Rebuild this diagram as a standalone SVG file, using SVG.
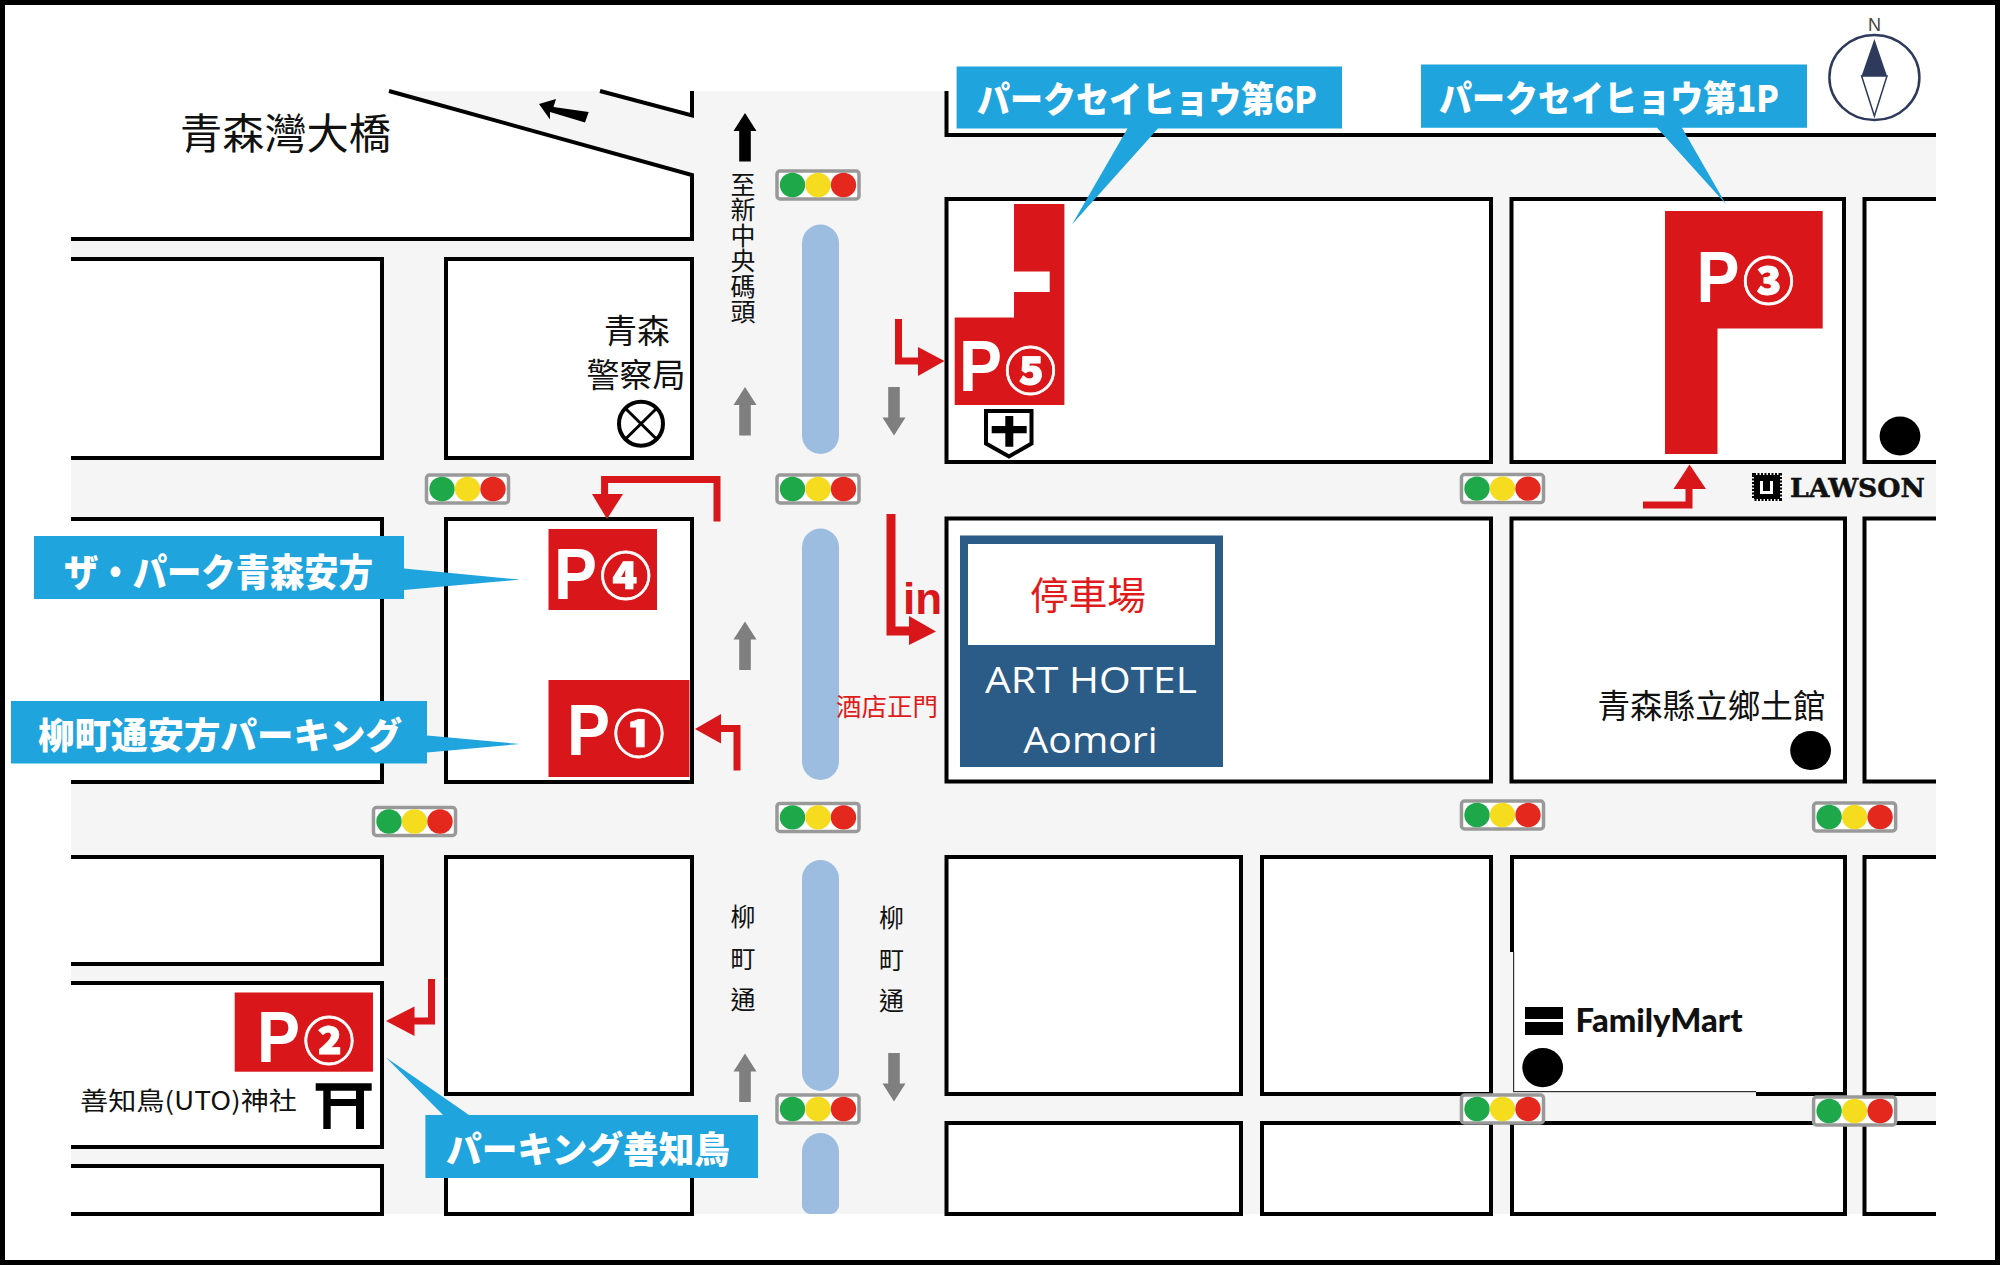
<svg xmlns="http://www.w3.org/2000/svg" width="2000" height="1266" viewBox="0 0 2000 1266">
<style>
.b{fill:#fff;stroke:#000;stroke-width:4}
.l{fill:none;stroke:#000;stroke-width:4}
.med{fill:#9DBDE0}
.red{fill:#D9161A}
.ra{fill:none;stroke:#D9161A;stroke-width:7}
.rh{fill:#D9161A}
.call{fill:#1FA4DE}
.ct{font-family:"Noto Sans CJK JP","Noto Sans",sans-serif;font-weight:900;fill:#fff;font-size:36px}
.p{font-family:"Liberation Sans",Arial,sans-serif;font-weight:700;fill:#fff;font-size:72.6px}
.c{font-family:"Noto Sans CJK JP",sans-serif;font-weight:900;fill:#fff;stroke:#fff;stroke-width:.8;font-size:51px;text-anchor:middle}
.t{font-family:"Noto Sans CJK TC",sans-serif;fill:#111}
.v{font-size:25px;writing-mode:vertical-rl}
.hw{font-family:"Open Sans","Noto Sans",sans-serif;fill:#fff;font-size:37px}
.dot{fill:#000}
</style>
<defs>
<g id="tl"><rect x="-41" y="-14" width="82" height="28" rx="3" fill="#fff" stroke="#999" stroke-width="3.500"/><ellipse cx="-25.500" cy="0" rx="12.700" ry="12.200" fill="#1EA84A"/><ellipse cx="0" cy="0" rx="12.700" ry="12.200" fill="#F6DC1E"/><ellipse cx="25.500" cy="0" rx="12.700" ry="12.200" fill="#E4281E"/></g>
<polygon id="au" points="0,0 11.500,18 5.800,18 5.800,48.500 -5.800,48.500 -5.800,18 -11.500,18"/>
<polygon id="ad" points="0,0 11.500,-18 5.800,-18 5.800,-48.500 -5.800,-48.500 -5.800,-18 -11.500,-18"/>
</defs>
<rect width="2000" height="1266" fill="#fff"/>
<polygon id="roads" points="71,91 946,91 946,135 1936,135 1936,1214 71,1214" fill="#F5F5F5"/>
<g id="blocks">
<path d="M71,239H692V175L389,91H71Z" fill="#fff"/>
<path class="l" d="M71,239H692V175L389,91"/>
<path d="M600,91L692,115.500V91Z" fill="#fff"/>
<path class="l" d="M600,91L692,115.500V91"/>
<path d="M946.500,91V135H1936V88H946.500Z" fill="#fff"/>
<path class="l" d="M946.500,91V135H1936"/>
<path class="b" d="M71,259H382V458H71"/>
<rect class="b" x="446" y="259" width="246" height="199"/>
<path class="b" d="M71,519H382V782H71"/>
<rect class="b" x="446" y="519" width="246" height="263"/>
<path class="b" d="M71,857H382V964H71"/>
<path class="b" d="M71,983H382V1147H71"/>
<path class="b" d="M71,1166H382V1214H71"/>
<rect class="b" x="446" y="857" width="246" height="237"/>
<rect class="b" x="446" y="1122" width="246" height="92"/>
<rect class="b" x="946.500" y="199" width="544.500" height="263"/>
<rect class="b" x="1511.500" y="199" width="332.500" height="263"/>
<path class="b" d="M1936,199H1864.500V462H1936"/>
<rect class="b" x="946.500" y="518.500" width="544.500" height="263"/>
<rect class="b" x="1511.500" y="518.500" width="333.500" height="263"/>
<path class="b" d="M1936,518.500H1864.500V781.500H1936"/>
<rect class="b" x="946.500" y="857" width="294.500" height="237"/>
<rect class="b" x="1262" y="857" width="229" height="237"/>
<rect class="b" x="1512" y="857" width="333" height="237"/>
<path class="b" d="M1936,857H1864.500V1094H1936"/>
<rect class="b" x="946.500" y="1123" width="294.500" height="91"/>
<rect class="b" x="1262" y="1123" width="229" height="91"/>
<rect class="b" x="1512" y="1123" width="333" height="91"/>
<path class="b" d="M1936,1123H1864.500V1214H1936"/>
<rect x="1509" y="952" width="4" height="144" fill="#F5F5F5"/>
<rect x="1513" y="952" width="1.200" height="140" fill="#333"/>
<rect x="1513" y="1092" width="243" height="4" fill="#F5F5F5"/>
<rect x="1513" y="1091" width="243" height="1.200" fill="#333"/>
</g>
<g id="medians">
<rect class="med" x="802" y="224.500" width="37" height="229.500" rx="18.500"/>
<rect class="med" x="802" y="528.600" width="37" height="251.400" rx="18.500"/>
<rect class="med" x="802" y="860" width="37" height="231" rx="18.500"/>
<path class="med" d="M802,1151.500a18.500,18.500 0 0 1 37,0V1207q-3,7-8,7H810q-5,0-8-7Z"/>
</g>
<g id="traffic-lights">
<use href="#tl" x="818" y="185"/>
<use href="#tl" x="818" y="489"/>
<use href="#tl" x="467.500" y="489"/>
<use href="#tl" x="1502.500" y="488.600"/>
<use href="#tl" x="414.500" y="821.500"/>
<use href="#tl" x="818" y="817.400"/>
<use href="#tl" x="818" y="1109"/>
<use href="#tl" x="1502.500" y="815"/>
<use href="#tl" x="1854.600" y="817"/>
<use href="#tl" x="1502.500" y="1109"/>
<use href="#tl" x="1854.600" y="1111"/>
</g>
<g id="connectors">
<use href="#au" x="745" y="113" fill="#000"/>
<use href="#au" x="745" y="387" fill="#7F7F7F"/>
<use href="#au" x="745" y="621.500" fill="#7F7F7F"/>
<use href="#au" x="745" y="1053.500" fill="#7F7F7F"/>
<use href="#ad" x="894" y="435.500" fill="#7F7F7F"/>
<use href="#ad" x="894" y="1101.500" fill="#7F7F7F"/>
<polygon points="539,104 556,99 553.500,107 588.700,112 585,122.500 550,112 550,119.600" fill="#000"/>
<path class="ra" d="M898.500,319V361H922"/>
<polygon class="rh" points="944.500,361 918,347 918,376"/>
<path class="ra" d="M717,521.600V479.600H604.600V497"/>
<polygon class="rh" points="607,519 592,494 623,494"/>
<path class="ra" style="stroke-width:9" d="M891,514V631H912"/>
<polygon class="rh" points="936,631.500 909,616 909,645"/>
<path class="ra" d="M737,770.500V728.500H718"/>
<polygon class="rh" points="695,729 721,714 721,743.500"/>
<path class="ra" d="M431.500,979V1021H412"/>
<polygon class="rh" points="386,1021 414.500,1006.400 414.500,1036"/>
<path class="ra" d="M1643,505H1689V487"/>
<polygon class="rh" points="1689.500,464.500 1673.500,489 1706,489"/>
</g>
<g id="p4"><rect class="red" x="548.500" y="529" width="108.500" height="81"/><text class="p" x="554" y="599" textLength="43" lengthAdjust="spacingAndGlyphs">P</text><text class="c" x="625.700" y="595">④</text></g>
<g id="p1"><rect class="red" x="548.500" y="680" width="141" height="97"/><text class="p" x="567" y="754.600" textLength="43" lengthAdjust="spacingAndGlyphs">P</text><text class="c" x="639" y="753">①</text></g>
<g id="p2"><rect class="red" x="234.700" y="992.500" width="138.300" height="79.200"/><text class="p" x="257" y="1061.500" textLength="43" lengthAdjust="spacingAndGlyphs">P</text><text class="c" x="329" y="1059.500">②</text></g>
<g id="p3"><polygon class="red" points="1665,211 1822.700,211 1822.700,328.600 1717.500,328.600 1717.500,454 1665,454"/><text class="p" x="1696.500" y="302" textLength="43" lengthAdjust="spacingAndGlyphs">P</text><text class="c" x="1768.500" y="299.500">③</text></g>
<g id="p5"><polygon class="red" points="1014,204 1064.400,204 1064.400,405 954.700,405 954.700,317.600 1014,317.600 1014,292 1049.700,292 1049.700,271.400 1014,271.400"/><text class="p" x="959" y="391" textLength="43" lengthAdjust="spacingAndGlyphs">P</text><text class="c" x="1030.500" y="389.500">⑤</text></g>
<g id="hotel"><rect x="960" y="535.500" width="263" height="231.500" fill="#2B5B87"/><rect x="968" y="544" width="247" height="101" fill="#fff"/>
<text x="1030" y="609" font-family="Noto Sans CJK TC,sans-serif" font-size="38" fill="#E01B1B" textLength="116" lengthAdjust="spacingAndGlyphs">停車場</text>
<text class="hw" x="985" y="693" textLength="212" lengthAdjust="spacingAndGlyphs">ART HOTEL</text>
<text class="hw" x="1023.600" y="753" textLength="134" lengthAdjust="spacingAndGlyphs">Aomori</text></g>
<g id="in-label"><text x="903" y="614" font-family="Liberation Sans,sans-serif" font-weight="700" font-size="44" fill="#D9161A">in</text>
<text x="836" y="716" font-family="Noto Sans CJK TC,sans-serif" font-size="25" fill="#E01B1B" textLength="102" lengthAdjust="spacingAndGlyphs">酒店正門</text></g>
<g id="callout-p4"><polygon class="call" points="34,536 404,536 404,568.600 520,579.600 404,590 404,599 34,599"/><text class="ct" x="64" y="586" style="font-size:38px" textLength="309" lengthAdjust="spacingAndGlyphs">ザ・パーク青森安方</text></g>
<g id="callout-p1"><polygon class="call" points="11,701 427,701 427,735.400 520,744 427,752.500 427,763.500 11,763.500"/><text class="ct" x="38" y="749" textLength="364" lengthAdjust="spacingAndGlyphs">柳町通安方パーキング</text></g>
<g id="callout-p2"><polygon class="call" points="425.400,1115 443,1115 386,1057.400 469,1115 758,1115 758,1178 425.400,1178"/><text class="ct" x="446" y="1163" textLength="284" lengthAdjust="spacingAndGlyphs">パーキング善知鳥</text></g>
<g id="callout-p5"><polygon class="call" points="956.600,66.500 1342,66.500 1342,128.600 1158,128.600 1072,224.500 1127.500,128.600 956.600,128.600"/><text class="ct" x="977" y="113" textLength="340" lengthAdjust="spacingAndGlyphs">パークセイヒョウ第6P</text></g>
<g id="callout-p3"><polygon class="call" points="1421,64.500 1807,64.500 1807,127.800 1682,127.800 1725.800,204 1657,127.800 1421,127.800"/><text class="ct" x="1439" y="112" textLength="340" lengthAdjust="spacingAndGlyphs">パークセイヒョウ第1P</text></g>
<g id="labels">
<text class="t" x="180" y="149" font-size="42" textLength="211" lengthAdjust="spacingAndGlyphs">青森灣大橋</text>
<text class="t v" x="743" y="172" style="letter-spacing:.4px">至新中央碼頭</text>
<text class="t" x="604" y="343" font-size="33">青森</text>
<text class="t" x="586.500" y="387" font-size="33">警察局</text>
<text class="t v" x="743" y="904" style="letter-spacing:16.500px">柳町通</text>
<text class="t v" x="891.500" y="905" style="letter-spacing:16.500px">柳町通</text>
<text class="t" x="80" y="1110" font-size="25" textLength="217" lengthAdjust="spacingAndGlyphs">善知鳥(UTO)神社</text>
<text class="t" x="1597.500" y="718" font-size="33" textLength="228" lengthAdjust="spacingAndGlyphs">青森縣立鄉土館</text>
</g>
<g id="police"><circle cx="641" cy="423.700" r="22" fill="#fff" stroke="#000" stroke-width="4"/><path d="M625.500,408.500L656.500,439M656.500,408.500L625.500,439" stroke="#000" stroke-width="3" fill="none"/></g>
<g id="hospital"><path d="M986,411H1031.500V443.500L1009,456.500L986,443.500Z" fill="#fff" stroke="#000" stroke-width="4"/><path d="M1005.300,416H1013.300V426H1026.700V433.300H1013.300V446.700H1005.300V433.300H991.700V426H1005.300Z" fill="#000"/></g>
<g id="shrine"><path d="M315.700,1083.300H371.700V1090.700H364V1129H356V1106H330.700V1129H323.300V1090.700H315.700ZM330.700,1090.700V1099H356V1090.700Z" fill="#000" fill-rule="evenodd"/></g>
<g id="lawson"><rect x="1754" y="475" width="26" height="24" fill="#000" stroke="#000" stroke-width="4" stroke-dasharray="2 1.500"/><path d="M1760,481V494H1773V481H1770V491H1763V481Z" fill="#fff"/>
<text x="1790" y="497" font-family="DejaVu Serif,serif" font-weight="700" font-size="26" fill="#111" stroke="#111" stroke-width=".5" textLength="135" lengthAdjust="spacingAndGlyphs">LAWSON</text></g>
<g id="familymart"><rect x="1525" y="1007" width="38" height="12" fill="#000"/><rect x="1525" y="1022" width="38" height="13" fill="#000"/>
<text x="1575.500" y="1032" font-family="Lato,Liberation Sans,sans-serif" font-weight="900" font-size="32" fill="#111" textLength="167" lengthAdjust="spacingAndGlyphs">FamilyMart</text></g>
<g id="dots"><ellipse class="dot" cx="1900" cy="436" rx="20.400" ry="19.600"/><ellipse class="dot" cx="1810.600" cy="750.500" rx="20.400" ry="19.600"/><ellipse class="dot" cx="1542.700" cy="1067.600" rx="20.400" ry="19.600"/></g>
<g id="compass"><ellipse cx="1874.400" cy="77.500" rx="45" ry="42.500" fill="#fff" stroke="#2E3A5C" stroke-width="2.500"/><polygon points="1874.400,39 1887,76 1861.600,76" fill="#2E3A5C"/><polygon points="1861.600,76 1887,76 1874.400,116" fill="#fff" stroke="#2E3A5C" stroke-width="1.500"/>
<text x="1874.400" y="31" font-family="Liberation Sans,sans-serif" font-size="18" fill="#444" text-anchor="middle">N</text></g>
<rect id="frame" x="2.500" y="2.500" width="1995" height="1260" fill="none" stroke="#000" stroke-width="5"/>
</svg>
